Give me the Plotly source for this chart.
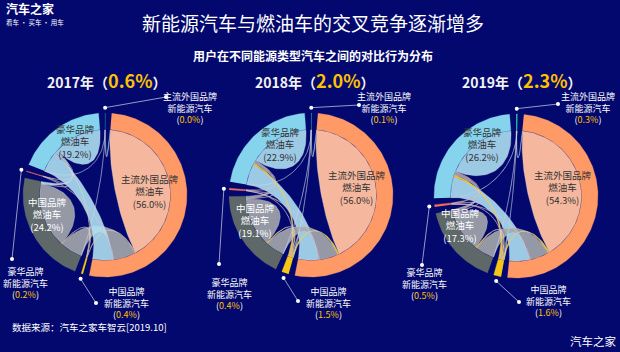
import numpy as np
import plotly.graph_objects as go

# ---------------- data ----------------
label_lines = [["主流外国品牌", "新能源汽车"], ["主流外国品牌", "燃油车"],
               ["中国品牌", "新能源汽车"], ["中国品牌", "燃油车"],
               ["豪华品牌", "新能源汽车"], ["豪华品牌", "燃油车"]]
years = ["2017年", "2018年", "2019年"]
cross_share = ["0.6%", "2.0%", "2.3%"]

shares_2017 = [0.0, 56.0, 0.4, 24.2, 0.2, 19.2]
shares_2018 = [0.1, 56.0, 1.5, 19.1, 0.4, 22.9]
shares_2019 = [0.3, 54.3, 1.6, 17.3, 0.5, 26.2]

# cross-comparison flows between groups (i, j, share %) – estimated
flows_2017 = [(0, 1, 0.02), (0, 3, 0.01), (0, 5, 0.02), (1, 2, 0.15), (1, 3, 6.0),
              (1, 4, 0.08), (1, 5, 5.5), (2, 3, 0.15), (2, 5, 0.10), (3, 4, 0.04),
              (3, 5, 0.6), (4, 5, 0.08)]
flows_2018 = [(0, 1, 0.04), (0, 2, 0.02), (0, 3, 0.02), (0, 5, 0.02), (1, 2, 0.5),
              (1, 3, 5.0), (1, 4, 0.1), (1, 5, 5.5), (2, 3, 0.3), (2, 4, 0.05),
              (2, 5, 0.5), (3, 4, 0.1), (3, 5, 0.7), (4, 5, 0.15)]
flows_2019 = [(0, 1, 0.15), (0, 2, 0.03), (0, 3, 0.04), (0, 5, 0.08), (1, 2, 0.5),
              (1, 3, 5.0), (1, 4, 0.1), (1, 5, 5.5), (2, 3, 0.35), (2, 4, 0.07),
              (2, 5, 0.6), (3, 4, 0.1), (3, 5, 0.8), (4, 5, 0.23)]

all_shares = [shares_2017, shares_2018, shares_2019]
all_flows = [flows_2017, flows_2018, flows_2019]

# ---------------- style / layout ----------------
W, H = 620, 352
BG = "#02086E"
GOLD = "#FFC000"
FONT = "Noto Sans CJK SC"
group_colors = ["#1FB5A8", "#FF9966", "#F5C518", "#5E6868", "#F26B5B", "#86D3EE"]
ribbon_colors = ["rgba(90,205,195,0.9)", "rgba(255,192,160,0.96)", "rgba(245,197,24,0.95)",
                 "rgba(165,170,172,0.9)", "rgba(242,107,91,0.95)", "rgba(178,228,245,0.88)"]
OUTLINE = "rgba(215,215,235,0.55)"
CENTERS = [(105, 195), (311, 195), (516, 196)]
RPX = 82
INNER = 0.80
RIB = 0.795
PAD = np.deg2rad(4.5)
CTRL = 0.45
XR, YR = 1.25, 1.45

inner_label_pos = [{1: (150, 191), 5: (75, 142), 3: (47, 214)},
                   {1: (357, 187), 5: (280, 145), 3: (255, 220)},
                   {1: (563, 187), 5: (482, 145), 3: (460, 225)}]
inner_label_color = {1: "#333333", 5: "#333333", 3: "#FFFFFF"}
outer_dot_pos = [{0: (166, 97), 4: (12, 259), 2: (96, 303)},
                 {0: (359, 105), 4: (219, 264), 2: (298, 301)},
                 {0: (558, 104), 4: (422, 265), 2: (519, 302)}]
outer_label_pos = [{0: (190, 108), 4: (25, 283), 2: (126, 303)},
                   {0: (384, 108), 4: (229, 294), 2: (328, 303)},
                   {0: (588, 108), 4: (425, 284), 2: (548, 301)}]
year_pos = [(106, 80), (314, 80), (521, 80)]


def pt(th, r):
    return np.array([r * np.sin(th), r * np.cos(th)])


def arc(t0, t1, r):
    n = max(2, int(abs(t1 - t0) / 0.02) + 2)
    th = np.linspace(t0, t1, n)
    return np.column_stack([r * np.sin(th), r * np.cos(th)])


def bez(p0, p3):
    c1, c2 = CTRL * p0, CTRL * p3
    t = np.linspace(0, 1, 40)[:, None]
    return (1 - t) ** 3 * p0 + 3 * (1 - t) ** 2 * t * c1 + 3 * (1 - t) * t ** 2 * c2 + t ** 3 * p3


fig = go.Figure()
annotations = []


def paper(px, py):
    return px / W, 1 - py / H


for k in range(3):
    shares = all_shares[k]
    flows = all_flows[k]
    n = len(shares)
    M = np.zeros((n, n))
    for i, j, v in flows:
        M[i, j] = v
        M[j, i] = v
    for i in range(n):
        M[i, i] = max(shares[i] - (M[i].sum() - M[i, i]), 0)
    sizes = M.sum(axis=1)
    kf = (2 * np.pi - n * PAD) / sizes.sum()

    # chord layout (d3 style ordering)
    sub = {}
    g_ang = []
    a = 0.0
    for i in range(n):
        g0 = a
        for j in range(n):
            sub[(i, j)] = (a, a + M[i, j] * kf)
            a += M[i, j] * kf
        g_ang.append((g0, a))
        a += PAD

    xa = "x" if k == 0 else f"x{k + 1}"
    ya = "y" if k == 0 else f"y{k + 1}"

    # ribbons: biggest first
    chords = [(i, j, M[i, j]) for i in range(n) for j in range(i, n) if M[i, j] > 0]
    chords.sort(key=lambda c: -c[2])
    for i, j, v in chords:
        s0, s1 = sub[(i, j)]
        if i == j:
            pts = np.vstack([arc(s0, s1, RIB), bez(pt(s1, RIB), pt(s0, RIB))])
        else:
            t0, t1 = sub[(j, i)]
            pts = np.vstack([arc(s0, s1, RIB), bez(pt(s1, RIB), pt(t0, RIB)),
                             arc(t0, t1, RIB), bez(pt(t1, RIB), pt(s0, RIB))])
        cidx = i if shares[i] < shares[j] else j
        if i == j:
            cidx = i
        fig.add_trace(go.Scatter(x=pts[:, 0], y=pts[:, 1], mode="lines", fill="toself",
                                 fillcolor=ribbon_colors[cidx],
                                 line=dict(color=OUTLINE, width=0.6),
                                 hoverinfo="skip", showlegend=False, xaxis=xa, yaxis=ya))

    # group arcs
    for i in range(n):
        g0, g1 = g_ang[i]
        pts = np.vstack([arc(g0, g1, 1.0), arc(g1, g0, INNER)])
        fig.add_trace(go.Scatter(x=pts[:, 0], y=pts[:, 1], mode="lines", fill="toself",
                                 fillcolor=group_colors[i],
                                 line=dict(color=group_colors[i], width=0.3),
                                 hoverinfo="skip", showlegend=False, xaxis=xa, yaxis=ya))

    cx, cy = CENTERS[k]
    # leader lines for small groups
    for i, (px, py) in outer_dot_pos[k].items():
        g0, g1 = g_ang[i]
        p1 = pt((g0 + g1) / 2, 1.065)
        p2 = np.array([(px - cx) / RPX, -(py - cy) / RPX])
        fig.add_trace(go.Scatter(x=[p1[0], p2[0]], y=[p1[1], p2[1]], mode="lines+markers",
                                 line=dict(color="rgba(220,222,235,0.85)", width=0.8),
                                 marker=dict(size=4, color="#FFFFFF"),
                                 hoverinfo="skip", showlegend=False, xaxis=xa, yaxis=ya))
        lx, ly = outer_label_pos[k][i]
        txt = (f"{label_lines[i][0]}<br>{label_lines[i][1]}<br>"
               f"(<span style='color:{GOLD}'>{shares[i]:.1f}%</span>)")
        x_, y_ = paper(lx, ly)
        annotations.append(dict(x=x_, y=y_, xref="paper", yref="paper", text=txt,
                                showarrow=False, xanchor="center", yanchor="middle",
                                font=dict(family=FONT, size=9, color="#FFFFFF")))

    for i, (lx, ly) in inner_label_pos[k].items():
        txt = f"{label_lines[i][0]}<br>{label_lines[i][1]}<br>({shares[i]:.1f}%)"
        x_, y_ = paper(lx, ly)
        annotations.append(dict(x=x_, y=y_, xref="paper", yref="paper", text=txt,
                                showarrow=False, xanchor="center", yanchor="middle",
                                font=dict(family=FONT, size=9.5, color=inner_label_color[i])))

    yx, yy = year_pos[k]
    x_, y_ = paper(yx, yy)
    annotations.append(dict(x=x_, y=y_, xref="paper", yref="paper",
                            text=(f"<b>{years[k]}（<span style='color:{GOLD};font-size:18px'>"
                                  f"{cross_share[k]}</span>）</b>"),
                            showarrow=False, xanchor="center", yanchor="middle",
                            font=dict(family=FONT, size=14, color="#F2F2F2")))

    # axes
    xd = [(cx - XR * RPX) / W, (cx + XR * RPX) / W]
    yd = [(H - cy - YR * RPX) / H, (H - cy + YR * RPX) / H]
    axkey = "xaxis" if k == 0 else f"xaxis{k + 1}"
    aykey = "yaxis" if k == 0 else f"yaxis{k + 1}"
    fig.layout[axkey] = dict(domain=xd, range=[-XR, XR], visible=False, fixedrange=True,
                             anchor=ya)
    fig.layout[aykey] = dict(domain=yd, range=[-YR, YR], visible=False, fixedrange=True,
                             anchor=xa)


# titles and decorations
def add_text(px, py, text, size, color="#FFFFFF", xanchor="center", family=FONT):
    x_, y_ = paper(px, py)
    annotations.append(dict(x=x_, y=y_, xref="paper", yref="paper", text=text,
                            showarrow=False, xanchor=xanchor, yanchor="middle",
                            font=dict(family=family, size=size, color=color)))


add_text(313, 22, "新能源汽车与燃油车的交叉竞争逐渐增多", 19)
add_text(313, 55, "<b>用户在不同能源类型汽车之间的对比行为分布</b>", 12)
add_text(4, 9, "<b>汽车之家</b>", 12, xanchor="left")
add_text(4, 22, "看车 · 买车 · 用车", 6.5, xanchor="left")
add_text(10, 327, "数据来源：汽车之家车智云[2019.10]", 9.5, xanchor="left")
add_text(619, 341, "汽车之家", 11.5, xanchor="right")

fig.update_layout(width=W, height=H, margin=dict(l=0, r=0, t=0, b=0),
                  paper_bgcolor=BG, plot_bgcolor=BG, showlegend=False,
                  annotations=annotations)
fig.write_html("out.html")
